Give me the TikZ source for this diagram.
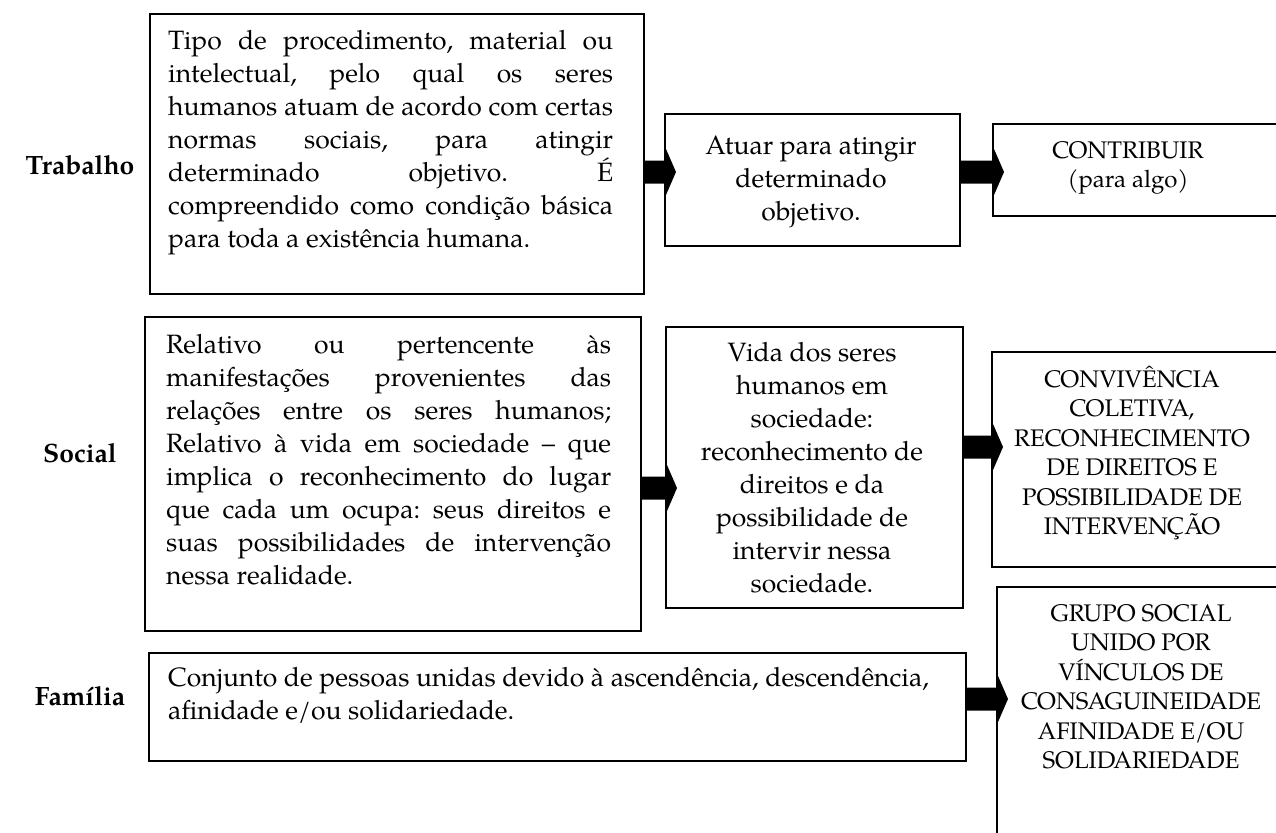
\documentclass[tikz,border=0pt]{standalone}
\usepackage{fontspec}
\setmainfont{texgyrepagella}[Extension=.otf, UprightFont=*-regular, BoldFont=*-bold, ItalicFont=*-italic, BoldItalicFont=*-bolditalic]
\usetikzlibrary{calc}
\frenchspacing
\newcommand\bodyfont{\fontsize{26.5}{33}\selectfont\frenchspacing}
\newcommand\capfont{\fontsize{24}{29.5}\selectfont}
\newcommand\jline[1]{\makebox[445pt][s]{#1}}
\newcommand\blockarr[3]{%
  \fill[arrowfill] let \p1=(#1.east), \p2=(#2.west) in
    (\x1,{-#3+11.5}) -- (\x2+2pt,{-#3+11.5}) -- (\x2+2pt,{-#3+23}) -- (\x2+12pt,{-#3})
    -- (\x2+2pt,{-#3-23}) -- (\x2+2pt,{-#3-11.5}) -- (\x1,{-#3-11.5}) -- cycle;}
\begin{document}
\begin{tikzpicture}[x=1pt,y=1pt,
  box/.style={draw, line width=1.7pt, fill=white, inner sep=0pt, anchor=north west},
  jtext/.style={font=\bodyfont, inner sep=0pt, anchor=north west, align=left},
  ctext/.style={font=\bodyfont, inner sep=0pt, anchor=north, align=center},
  captext/.style={font=\capfont, inner sep=0pt, anchor=north, align=center},
  lbl/.style={font=\bodyfont\bfseries, inner sep=0pt, anchor=base},
  arrowfill/.style={fill=black}]
\useasboundingbox (0,0) rectangle (1276,-832);
\fill[white] (0,0) rectangle (1276,-832);
\clip (0,0) rectangle (1276,-832);

% boxes
\node[box, minimum width=494pt, minimum height=280pt] (a1) at (149,-13) {};
\node[box, minimum width=295pt, minimum height=132pt] (b1) at (664,-113) {};
\node[box, minimum width=288pt, minimum height=92pt] (c1) at (992,-123) {};
\node[box, minimum width=496pt, minimum height=314pt] (a2) at (144,-316) {};
\node[box, minimum width=297pt, minimum height=281pt] (b2) at (665,-326) {};
\node[box, minimum width=289pt, minimum height=215pt] (c2) at (991,-351) {};
\node[box, minimum width=817pt, minimum height=108pt] (a3) at (148,-652) {};
\node[box, minimum width=284pt, minimum height=250pt] (c3) at (996,-586) {};

% arrows
\blockarr{a1}{b1}{172}
\blockarr{b1}{c1}{172}
\blockarr{a2}{b2}{488}
\blockarr{b2}{c2}{447}
\blockarr{a3}{c3}{699}

% labels
\node[lbl] (lt) at (80,-174) {Trabalho};
\node[lbl] (ls) at (80,-462) {Social};
\node[lbl] (lf) at (80,-705) {Família};

% texts
\node[jtext] (a1t) at (168,-25.9) {\strut\jline{Tipo de procedimento, material ou}\\
\jline{intelectual, pelo qual os seres}\\
\jline{humanos atuam de acordo com certas}\\
\jline{normas sociais, para atingir}\\
\jline{determinado objetivo. É}\\
\jline{compreendido como condição básica}\\
para toda a existência humana.};

\node[ctext] (b1t) at (811,-130.9) {\strut Atuar para atingir\\ determinado\\ objetivo.};

\node[captext] (c1t) at (1128,-137.4) {\strut CONTRIBUIR\\ (para algo)};

\node[jtext] (a2t) at (166,-329.9) {\strut\jline{Relativo ou pertencente às}\\
\jline{manifestações provenientes das}\\
\jline{relações entre os seres humanos;}\\
\jline{Relativo à vida em sociedade – que}\\
\jline{implica o reconhecimento do lugar}\\
\jline{que cada um ocupa: seus direitos e}\\
\jline{suas possibilidades de intervenção}\\
nessa realidade.};

\node[ctext] (b2t) at (812,-337.9) {\strut Vida dos seres\\ humanos em\\ sociedade:\\ reconhecimento de\\ direitos e da\\ possibilidade de\\ intervir nessa\\ sociedade.};

\node[captext] (c2t) at (1132,-365.6) {\strut CONVIVÊNCIA\\ COLETIVA,\\ RECONHECIMENTO\\ DE DIREITOS E\\ POSSIBILIDADE DE\\ INTERVENÇÃO};

\node[jtext] (a3t) at (168,-662.9) {\strut Conjunto de pessoas unidas devido à ascendência, descendência,\\ afinidade e/ou solidariedade.};

\node[captext] (c3t) at (1141,-600.6) {\strut GRUPO SOCIAL\\ UNIDO POR\\ VÍNCULOS DE\\ CONSAGUINEIDADE\\ AFINIDADE E/OU\\ SOLIDARIEDADE};
\end{tikzpicture}
\end{document}
